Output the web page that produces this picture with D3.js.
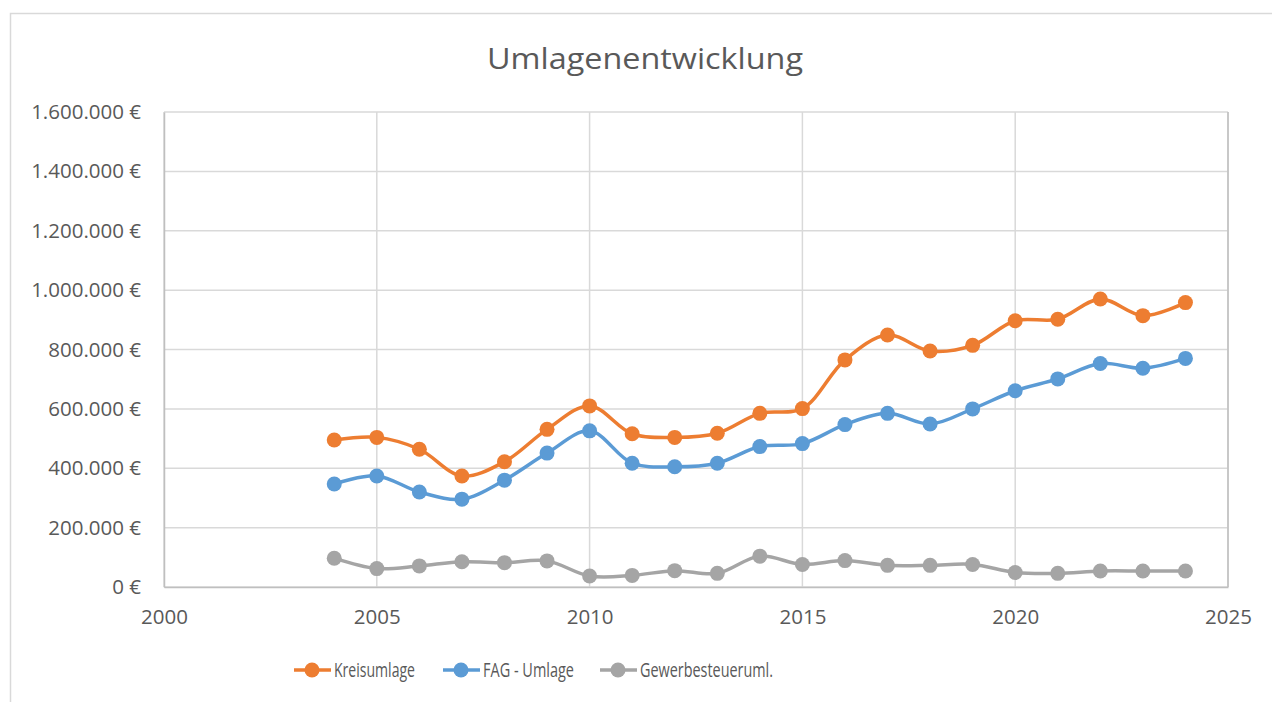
<!DOCTYPE html>
<html>
<head>
<meta charset="utf-8">
<script src="https://cdn.jsdelivr.net/npm/d3@7"></script>
<style>
  body { margin: 0; background: #fff; }
  svg text { font-family: "Open Sans", "Liberation Sans", sans-serif; fill: #595959; }
</style>
</head>
<body>
<div id="chart"></div>
<script>
//data
var years = [2004, 2005, 2006, 2007, 2008, 2009, 2010, 2011, 2012, 2013, 2014,
  2015, 2016, 2017, 2018, 2019, 2020, 2021, 2022, 2023, 2024];
var kreisumlage = [495000, 504000, 464000, 374000, 422000, 531000, 610000, 516000, 504000, 518000, 585000,
  601000, 765000, 849000, 795000, 814000, 897000, 902000, 970000, 914000, 958000];
var fagUmlage = [347000, 374000, 320000, 296000, 360000, 451000, 526000, 417000, 405000, 417000, 473000,
  483000, 547000, 585000, 549000, 600000, 661000, 701000, 753000, 737000, 770000];
var gewerbe = [97000, 62000, 71000, 85000, 82000, 88000, 37000, 39000, 55000, 46000, 104000,
  76000, 89000, 73000, 73000, 76000, 49000, 46000, 54000, 54000, 54000];
var seriesNames = ["Kreisumlage", "FAG - Umlage", "Gewerbesteueruml."];
var colors = ["#ED7D31", "#5B9BD5", "#A5A5A5"];
var xTicks = [2000, 2005, 2010, 2015, 2020, 2025];
var yTicks = [0, 200000, 400000, 600000, 800000, 1000000, 1200000, 1400000, 1600000];

var W = 1272, H = 702;
var margin = {top: 112, right: 44, bottom: 115, left: 164},
  width = W - margin.left - margin.right,
  height = H - margin.top - margin.bottom;

var x = d3.scaleLinear().domain([2000, 2025]).range([0, width]);
var y = d3.scaleLinear().domain([0, 1600000]).range([height, 0]);

var fmt = d3.formatLocale({decimal: ",", thousands: ".", grouping: [3], currency: ["", " €"]}).format("$,.0f");

var svg = d3.select("#chart").append("svg")
  .attr("width", W)
  .attr("height", H);

//outer chart frame
svg.append("path")
  .attr("d", "M10.5," + (H + 2) + "V13.5H" + (W + 2))
  .attr("fill", "none")
  .attr("stroke", "#d9d9d9")
  .attr("stroke-width", 1.5);

svg.append("text")
  .attr("x", 645)
  .attr("y", 69)
  .attr("text-anchor", "middle")
  .attr("font-size", 29)
  .attr("textLength", 316)
  .attr("lengthAdjust", "spacingAndGlyphs")
  .text("Umlagenentwicklung");

var g = svg.append("g")
  .attr("transform", "translate(" + margin.left + "," + margin.top + ")");

//gridlines
g.selectAll(".hgrid")
  .data(yTicks)
  .enter().append("line")
    .attr("x1", 0).attr("x2", width)
    .attr("y1", function(d) { return y(d); })
    .attr("y2", function(d) { return y(d); })
    .attr("stroke", "#d9d9d9")
    .attr("stroke-width", 1.5);

g.selectAll(".vgrid")
  .data(xTicks)
  .enter().append("line")
    .attr("x1", function(d) { return x(d); })
    .attr("x2", function(d) { return x(d); })
    .attr("y1", 0).attr("y2", height)
    .attr("stroke", "#d9d9d9")
    .attr("stroke-width", 1.5);

//axes
var yAxis = g.append("g")
  .call(d3.axisLeft(y).tickValues(yTicks).tickSize(0).tickPadding(23).tickFormat(fmt));
yAxis.select(".domain").attr("stroke", "#bfbfbf").attr("stroke-width", 1.5);
yAxis.selectAll("text").attr("font-size", 20.5).attr("fill", "#595959");

var xAxis = g.append("g")
  .attr("transform", "translate(0," + height + ")")
  .call(d3.axisBottom(x).tickValues(xTicks).tickSize(0).tickPadding(22).tickFormat(d3.format("d")));
xAxis.select(".domain").attr("stroke", "#bfbfbf").attr("stroke-width", 1.5);
xAxis.selectAll("text").attr("font-size", 20.5).attr("fill", "#595959");

//right border of plot area
g.append("line")
  .attr("x1", width).attr("x2", width)
  .attr("y1", 0).attr("y2", height)
  .attr("stroke", "#bfbfbf")
  .attr("stroke-width", 1.5);

//series
var allSeries = [kreisumlage, fagUmlage, gewerbe].map(function(vals, i) {
  return {name: seriesNames[i], color: colors[i], values: vals.map(function(v, j) { return {year: years[j], value: v}; })};
});

var line = d3.line()
  .x(function(d) { return x(d.year); })
  .y(function(d) { return y(d.value); })
  .curve(d3.curveCatmullRom.alpha(0.5));

var sg = g.selectAll(".series")
  .data(allSeries)
  .enter().append("g");

sg.append("path")
  .attr("d", function(d) { return line(d.values); })
  .attr("fill", "none")
  .attr("stroke", function(d) { return d.color; })
  .attr("stroke-width", 3.5);

sg.selectAll("circle")
  .data(function(d) { return d.values.map(function(v) { v.color = d.color; return v; }); })
  .enter().append("circle")
    .attr("cx", function(d) { return x(d.year); })
    .attr("cy", function(d) { return y(d.value); })
    .attr("r", 7.5)
    .attr("fill", function(d) { return d.color; });

//legend
var legendX = [294, 443, 600];
var legendW = [81, 91, 133];
var leg = svg.selectAll(".legend")
  .data(allSeries)
  .enter().append("g")
    .attr("transform", function(d, i) { return "translate(" + legendX[i] + ",670)"; });

leg.append("line")
  .attr("x1", 0).attr("x2", 37)
  .attr("stroke", function(d) { return d.color; })
  .attr("stroke-width", 3.5);
leg.append("circle")
  .attr("cx", 18)
  .attr("r", 7.5)
  .attr("fill", function(d) { return d.color; });
leg.append("text")
  .attr("x", 40)
  .attr("y", 7)
  .attr("font-size", 20)
  .attr("textLength", function(d, i) { return legendW[i]; })
  .attr("lengthAdjust", "spacingAndGlyphs")
  .text(function(d) { return d.name; });
</script>
</body>
</html>
